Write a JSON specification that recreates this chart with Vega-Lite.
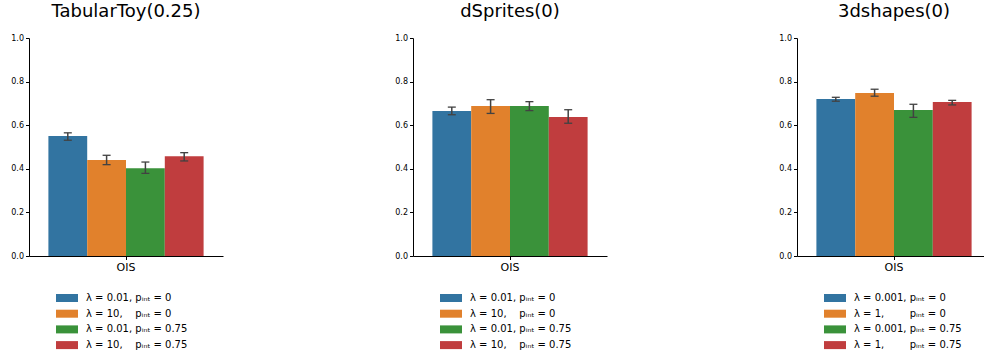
{
  "$schema": "https://vega.github.io/schema/vega-lite/v6.json",
  "background": "white",
  "padding": {"left": 10, "top": 3, "right": 0, "bottom": 0},
  "autosize": {"type": "pad"},
  "bounds": "flush",
  "spacing": 190,
  "resolve": {"scale": {"color": "independent", "xOffset": "independent", "x": "independent"}},
  "config": {
    "font": "DejaVu Sans",
    "view": {"stroke": null},
    "axis": {"domainColor": "black", "tickColor": "black", "labelColor": "black", "labelFontSize": 8, "tickSize": 3.5, "grid": false, "domainWidth": 1, "tickWidth": 1, "labelPadding": 2, "title": null},
    "title": {"fontSize": 18, "fontWeight": "normal", "color": "black", "offset": 13},
    "legend": {"orient": "none", "legendX": 33, "legendY": 255, "direction": "vertical", "title": null, "symbolType": "M-2.75,-1H2.75V1H-2.75Z", "symbolSize": 64, "symbolStrokeWidth": 0, "symbolOpacity": 1, "labelFontSize": 10, "labelColor": "black", "labelOffset": 14, "rowPadding": 5.7, "labelLimit": 300}
  },
  "datasets": {
    "tab": [
      {"method": "OIS", "label": "λ = 0.01, pᵢₙₜ = 0", "value": 0.550, "lo": 0.531, "hi": 0.565},
      {"method": "OIS", "label": "λ = 10,\u00a0\u00a0\u00a0\u00a0pᵢₙₜ = 0", "value": 0.440, "lo": 0.419, "hi": 0.462},
      {"method": "OIS", "label": "λ = 0.01, pᵢₙₜ = 0.75", "value": 0.402, "lo": 0.379, "hi": 0.431},
      {"method": "OIS", "label": "λ = 10,\u00a0\u00a0\u00a0\u00a0pᵢₙₜ = 0.75", "value": 0.457, "lo": 0.436, "hi": 0.474}
    ],
    "dsp": [
      {"method": "OIS", "label": "λ = 0.01, pᵢₙₜ = 0", "value": 0.665, "lo": 0.648, "hi": 0.683},
      {"method": "OIS", "label": "λ = 10,\u00a0\u00a0\u00a0\u00a0pᵢₙₜ = 0", "value": 0.688, "lo": 0.654, "hi": 0.717},
      {"method": "OIS", "label": "λ = 0.01, pᵢₙₜ = 0.75", "value": 0.688, "lo": 0.667, "hi": 0.708},
      {"method": "OIS", "label": "λ = 10,\u00a0\u00a0\u00a0\u00a0pᵢₙₜ = 0.75", "value": 0.638, "lo": 0.609, "hi": 0.671}
    ],
    "shp": [
      {"method": "OIS", "label": "λ = 0.001, pᵢₙₜ = 0", "value": 0.720, "lo": 0.710, "hi": 0.728},
      {"method": "OIS", "label": "λ = 1,\u00a0\u00a0\u00a0\u00a0\u00a0\u00a0\u00a0\u00a0pᵢₙₜ = 0", "value": 0.748, "lo": 0.733, "hi": 0.765},
      {"method": "OIS", "label": "λ = 0.001, pᵢₙₜ = 0.75", "value": 0.670, "lo": 0.636, "hi": 0.696},
      {"method": "OIS", "label": "λ = 1,\u00a0\u00a0\u00a0\u00a0\u00a0\u00a0\u00a0\u00a0pᵢₙₜ = 0.75", "value": 0.706, "lo": 0.693, "hi": 0.714}
    ]
  },
  "hconcat": [
    {
      "title": "TabularToy(0.25)",
      "width": 194, "height": 218,
      "data": {"name": "tab"},
      "encoding": {
        "x": {"field": "method", "type": "nominal", "scale": {"paddingInner": 0, "paddingOuter": 0.125}, "axis": {"labelAngle": 0, "labelFontSize": 11, "title": null}},
        "xOffset": {"field": "label", "type": "nominal", "sort": null, "scale": {"paddingInner": 0, "paddingOuter": 0}}
      },
      "layer": [
        {"mark": {"type": "bar"}, "encoding": {"y": {"field": "value", "type": "quantitative", "scale": {"domain": [0, 1]}, "axis": {"values": [0, 0.2, 0.4, 0.6, 0.8, 1.0], "format": ".1f", "title": null}}, "color": {"field": "label", "type": "nominal", "sort": null, "scale": {"range": ["#3274a1", "#e1812c", "#3a923a", "#c03d3e"]}}}},
        {"mark": {"type": "rule", "color": "#424242", "strokeWidth": 1.5}, "encoding": {"y": {"field": "lo", "type": "quantitative", "title": null}, "y2": {"field": "hi"}}},
        {"mark": {"type": "tick", "color": "#424242", "thickness": 1.3, "size": 8, "opacity": 1}, "encoding": {"y": {"field": "lo", "type": "quantitative", "title": null}}},
        {"mark": {"type": "tick", "color": "#424242", "thickness": 1.3, "size": 8, "opacity": 1}, "encoding": {"y": {"field": "hi", "type": "quantitative", "title": null}}}
      ]
    },
    {
      "title": "dSprites(0)",
      "width": 194, "height": 218,
      "data": {"name": "dsp"},
      "encoding": {
        "x": {"field": "method", "type": "nominal", "scale": {"paddingInner": 0, "paddingOuter": 0.125}, "axis": {"labelAngle": 0, "labelFontSize": 11, "title": null}},
        "xOffset": {"field": "label", "type": "nominal", "sort": null, "scale": {"paddingInner": 0, "paddingOuter": 0}}
      },
      "layer": [
        {"mark": {"type": "bar"}, "encoding": {"y": {"field": "value", "type": "quantitative", "scale": {"domain": [0, 1]}, "axis": {"values": [0, 0.2, 0.4, 0.6, 0.8, 1.0], "format": ".1f", "title": null}}, "color": {"field": "label", "type": "nominal", "sort": null, "scale": {"range": ["#3274a1", "#e1812c", "#3a923a", "#c03d3e"]}}}},
        {"mark": {"type": "rule", "color": "#424242", "strokeWidth": 1.5}, "encoding": {"y": {"field": "lo", "type": "quantitative", "title": null}, "y2": {"field": "hi"}}},
        {"mark": {"type": "tick", "color": "#424242", "thickness": 1.3, "size": 8, "opacity": 1}, "encoding": {"y": {"field": "lo", "type": "quantitative", "title": null}}},
        {"mark": {"type": "tick", "color": "#424242", "thickness": 1.3, "size": 8, "opacity": 1}, "encoding": {"y": {"field": "hi", "type": "quantitative", "title": null}}}
      ]
    },
    {
      "title": "3dshapes(0)",
      "width": 194, "height": 218,
      "data": {"name": "shp"},
      "encoding": {
        "x": {"field": "method", "type": "nominal", "scale": {"paddingInner": 0, "paddingOuter": 0.125}, "axis": {"labelAngle": 0, "labelFontSize": 11, "title": null}},
        "xOffset": {"field": "label", "type": "nominal", "sort": null, "scale": {"paddingInner": 0, "paddingOuter": 0}}
      },
      "layer": [
        {"mark": {"type": "bar"}, "encoding": {"y": {"field": "value", "type": "quantitative", "scale": {"domain": [0, 1]}, "axis": {"values": [0, 0.2, 0.4, 0.6, 0.8, 1.0], "format": ".1f", "title": null}}, "color": {"field": "label", "type": "nominal", "sort": null, "scale": {"range": ["#3274a1", "#e1812c", "#3a923a", "#c03d3e"]}}}},
        {"mark": {"type": "rule", "color": "#424242", "strokeWidth": 1.5}, "encoding": {"y": {"field": "lo", "type": "quantitative", "title": null}, "y2": {"field": "hi"}}},
        {"mark": {"type": "tick", "color": "#424242", "thickness": 1.3, "size": 8, "opacity": 1}, "encoding": {"y": {"field": "lo", "type": "quantitative", "title": null}}},
        {"mark": {"type": "tick", "color": "#424242", "thickness": 1.3, "size": 8, "opacity": 1}, "encoding": {"y": {"field": "hi", "type": "quantitative", "title": null}}}
      ]
    }
  ]
}
